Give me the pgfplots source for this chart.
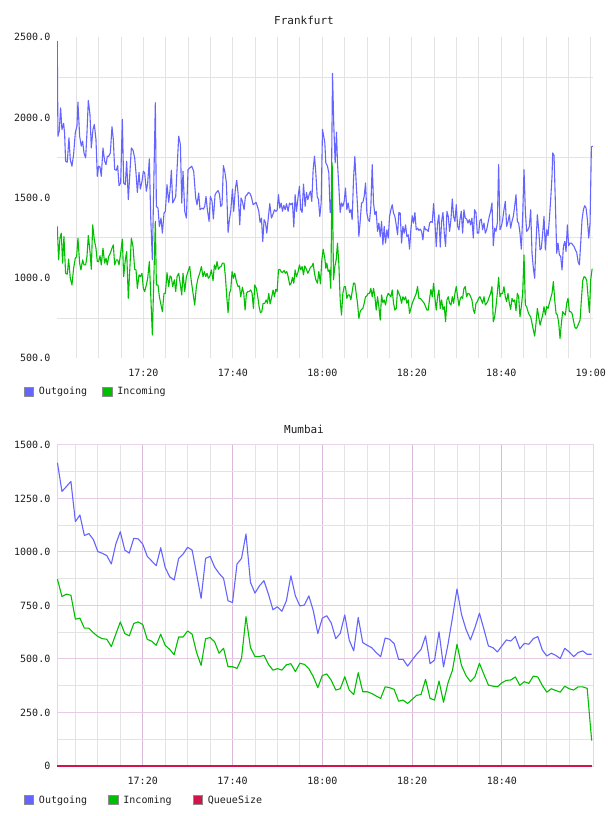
\documentclass[border=0pt]{standalone}
\usepackage{fontspec}
\usepackage{pgfplots}
\usepackage{pgfplotstable}
\pgfplotsset{compat=1.18}
\setmainfont{DejaVu Sans Mono}

\definecolor{outgoing}{HTML}{6464FF}
\definecolor{incoming}{HTML}{00BE00}
\definecolor{queue}{HTML}{D2144B}
\definecolor{gridgray}{HTML}{E3E3E3}
\definecolor{framepink}{HTML}{EBD2EB}
\definecolor{majpink}{HTML}{E6CBE6}
\definecolor{majpurple}{HTML}{DAB8DA}
\definecolor{swatchedge}{HTML}{8C8C8C}
\definecolor{ink}{HTML}{1E1E1E}

% Time axis: minutes after 17:00.
% Frankfurt, outgoing traffic
\pgfplotstableread{
t v
0.76 2477
0.91 1883
1.21 1915
1.51 2060
1.80 1925
2.18 1963
2.40 1900
2.62 1727
3.00 1721
3.37 1873
3.67 1737
4.04 1696
4.41 1769
4.79 1904
5.16 1946
5.38 2096
5.76 1883
6.13 1821
6.43 1852
6.73 1779
7.10 1748
7.40 1904
7.70 2106
8.07 2019
8.37 1810
8.74 1925
9.04 1956
9.41 1863
9.71 1633
10.01 1696
10.31 1692
10.60 1633
10.98 1810
11.35 1727
11.65 1706
11.95 1758
12.24 1758
12.62 1779
12.99 1942
13.29 1863
13.59 1675
13.96 1671
14.26 1700
14.56 1575
14.93 1592
15.30 1988
15.60 1592
15.97 1581
16.27 1727
16.64 1488
17.32 1810
17.69 1796
18.06 1748
18.36 1654
18.66 1533
19.03 1658
19.33 1554
19.70 1602
20.00 1665
20.30 1654
20.67 1540
20.97 1592
21.34 1742
21.64 1383
22.01 1113
22.68 2092
22.91 1446
23.28 1435
23.58 1321
23.95 1373
24.25 1279
24.62 1404
24.92 1415
25.29 1581
25.67 1471
25.97 1550
26.26 1671
26.56 1467
26.94 1488
27.23 1508
27.53 1675
27.90 1883
28.28 1831
28.58 1467
28.87 1665
29.25 1415
29.62 1373
29.99 1675
30.36 1685
30.81 1696
31.25 1665
31.70 1498
32.00 1456
32.37 1529
32.67 1425
33.04 1435
33.42 1429
33.72 1446
34.01 1508
34.31 1425
34.69 1352
34.98 1508
35.36 1477
35.65 1367
36.03 1519
36.33 1533
36.70 1544
37.00 1525
37.30 1446
37.59 1456
37.89 1700
38.26 1654
38.56 1592
38.94 1283
39.23 1363
39.53 1415
39.91 1554
40.20 1415
40.58 1560
40.87 1608
41.17 1529
41.55 1331
41.84 1498
42.14 1477
42.52 1425
42.81 1508
43.19 1519
43.48 1533
43.86 1525
44.16 1504
44.53 1456
44.83 1463
45.20 1471
45.50 1446
45.80 1415
46.09 1346
46.39 1373
46.69 1227
46.99 1363
47.29 1346
47.59 1279
47.96 1383
48.26 1463
48.63 1373
48.93 1394
49.30 1425
49.60 1415
49.90 1421
50.20 1519
50.49 1435
50.79 1467
51.09 1415
51.39 1452
51.69 1425
51.99 1463
52.36 1415
52.66 1467
52.95 1456
53.33 1467
53.63 1317
53.92 1519
54.22 1415
54.60 1508
54.89 1571
55.19 1425
55.49 1408
55.79 1585
56.16 1446
56.46 1533
56.76 1488
57.06 1519
57.35 1540
57.65 1477
57.95 1675
58.25 1758
58.55 1654
58.85 1508
59.14 1488
59.44 1383
59.74 1467
60.04 1925
60.56 1842
60.78 1717
61.16 1696
61.45 1654
61.75 1408
61.98 1408
62.28 2275
62.57 1946
62.87 1717
63.17 1908
63.39 1717
63.69 1571
63.99 1408
64.29 1467
64.59 1446
64.89 1477
65.18 1560
65.48 1425
65.78 1467
66.08 1408
66.38 1425
66.67 1363
66.97 1613
67.27 1758
67.57 1592
67.87 1446
68.17 1258
68.46 1352
68.76 1467
69.06 1471
69.36 1508
69.66 1592
69.96 1404
70.25 1363
70.55 1352
70.85 1446
71.15 1706
71.45 1467
71.75 1394
72.04 1415
72.34 1290
72.64 1342
72.94 1258
73.24 1352
73.54 1206
73.83 1321
74.13 1217
74.43 1300
74.73 1248
75.03 1383
75.33 1425
75.62 1456
75.92 1404
76.22 1383
76.52 1331
76.82 1269
77.11 1408
77.41 1404
77.71 1217
78.01 1321
78.31 1279
78.61 1331
78.90 1258
79.20 1269
79.50 1179
79.80 1304
80.10 1387
80.40 1342
80.69 1408
80.99 1300
81.29 1310
81.59 1296
81.89 1304
82.19 1290
82.48 1237
82.78 1321
83.08 1300
83.38 1300
83.68 1290
83.98 1342
84.27 1352
84.57 1346
84.87 1463
85.17 1342
85.47 1196
85.76 1342
86.06 1394
86.36 1192
86.66 1352
86.96 1408
87.26 1279
87.55 1196
87.85 1415
88.15 1383
88.45 1290
88.75 1363
89.05 1492
89.34 1383
89.64 1352
89.94 1456
90.24 1321
90.54 1300
90.76 1363
91.06 1415
91.36 1279
91.65 1425
91.95 1373
92.25 1367
92.55 1342
92.85 1363
93.15 1331
93.44 1373
93.74 1248
94.04 1425
94.34 1408
94.64 1279
94.94 1279
95.23 1358
95.53 1367
95.83 1300
96.13 1342
96.43 1279
96.73 1300
97.02 1342
97.32 1383
97.62 1415
97.92 1467
98.22 1200
98.52 1310
98.81 1290
99.11 1342
99.41 1706
99.71 1300
100.01 1321
100.31 1363
100.60 1425
100.90 1477
101.20 1321
101.50 1352
101.80 1394
102.09 1310
102.39 1352
102.69 1383
102.99 1446
103.29 1519
103.59 1352
103.88 1342
104.18 1279
104.48 1179
104.78 1383
105.08 1675
105.38 1415
105.67 1290
105.97 1300
106.27 1321
106.57 1425
106.87 1154
107.17 1060
107.46 998
107.76 1217
108.06 1394
108.36 1300
108.66 1175
108.95 1185
109.25 1279
109.55 1383
109.85 1175
110.15 1300
110.45 1263
110.74 1363
111.04 1488
111.34 1633
111.49 1779
111.79 1763
112.09 1467
112.39 1154
112.68 1217
112.98 1144
113.28 1133
113.58 1050
113.88 1196
114.18 1227
114.47 1165
114.77 1331
115.07 1200
115.37 1217
115.67 1217
115.97 1206
116.26 1196
116.56 1175
116.86 1158
117.16 1102
117.46 1081
117.75 1217
118.05 1363
118.35 1425
118.65 1450
118.95 1435
119.25 1363
119.55 1248
119.84 1342
120.14 1817
120.44 1821
}\frkOut

% Frankfurt, incoming traffic
\pgfplotstableread{
t v
0.76 1321
1.06 1113
1.36 1248
1.66 1279
1.95 1092
2.25 1258
2.62 1029
3.00 1023
3.30 1117
3.67 998
4.04 956
4.41 1060
4.79 1123
5.09 1133
5.38 1248
5.76 1092
6.05 1050
6.43 1113
6.73 1081
7.10 1081
7.40 1133
7.70 1265
8.07 1165
8.37 1054
8.67 1331
9.04 1238
9.41 1185
9.71 1102
10.01 1102
10.31 1138
10.60 1081
10.98 1185
11.35 1092
11.65 1123
11.95 1081
12.24 1133
12.62 1154
12.99 1185
13.29 1206
13.59 1081
13.96 1113
14.26 1113
14.56 1081
14.93 1154
15.30 1242
15.60 1008
15.97 1113
16.27 1165
16.64 873
17.32 1248
17.69 1196
18.06 1054
18.36 1050
18.66 935
19.03 1019
19.33 1008
19.70 1029
20.00 935
20.30 915
20.67 956
20.97 998
21.34 1102
21.64 904
22.01 644
22.68 1352
22.91 956
23.28 956
23.58 883
23.95 831
24.25 790
24.62 904
24.92 904
25.29 1033
25.67 946
25.97 1013
26.26 1004
26.56 946
26.94 988
27.23 915
27.53 1008
27.90 1029
28.28 956
28.58 894
28.87 1029
29.25 915
29.62 1008
29.99 1040
30.36 1071
30.73 977
31.11 904
31.48 831
31.85 946
32.22 998
32.60 1029
32.97 1071
33.34 1008
33.64 1040
33.94 1008
34.24 1029
34.54 998
34.83 1008
35.21 1050
35.58 983
35.88 1081
36.18 1054
36.47 1102
36.77 1054
37.07 1067
37.37 1071
37.67 1092
38.04 1092
38.34 1008
38.64 883
38.94 783
39.23 904
39.53 925
39.83 1040
40.13 998
40.43 1029
40.80 977
41.17 946
41.47 950
41.77 883
42.14 942
42.44 904
42.74 800
43.04 904
43.34 915
43.63 915
44.01 925
44.30 904
44.60 810
44.90 956
45.27 935
45.57 883
45.87 821
46.17 783
46.47 790
46.77 842
47.14 842
47.44 863
47.73 842
48.03 904
48.33 838
48.63 873
49.00 925
49.30 883
49.60 929
49.90 915
50.20 1050
50.49 1054
50.79 1040
51.09 1033
51.46 1046
51.76 1029
52.06 1040
52.36 1008
52.73 956
53.03 967
53.33 1004
53.63 967
53.92 1050
54.22 1008
54.60 1040
54.89 1081
55.19 1050
55.49 1071
55.79 1019
56.09 1075
56.46 1054
56.76 1029
57.06 1046
57.35 1067
57.65 1071
57.95 1092
58.25 1029
58.55 988
58.92 967
59.22 1040
59.59 963
59.89 1113
60.19 1179
60.56 1123
60.78 1060
61.01 1092
61.31 1040
61.60 1050
61.90 935
62.20 1717
62.50 988
62.80 1071
63.10 1113
63.39 1217
63.69 1092
63.99 863
64.29 769
64.59 904
64.89 946
65.18 946
65.48 873
65.78 894
66.08 894
66.38 863
66.67 915
66.97 967
67.27 967
67.57 904
67.87 842
68.17 748
68.46 790
68.76 804
69.06 810
69.36 842
69.66 883
69.96 888
70.25 904
70.55 904
70.85 935
71.15 883
71.45 935
71.75 883
72.04 800
72.34 883
72.64 821
72.94 738
73.24 894
73.54 846
73.83 863
74.13 831
74.43 883
74.73 904
75.03 894
75.33 883
75.62 925
75.92 842
76.22 800
76.52 810
76.82 925
77.11 904
77.41 883
77.71 842
78.01 883
78.31 863
78.61 883
78.90 842
79.20 863
79.50 779
79.80 810
80.10 842
80.40 863
80.69 883
80.99 904
81.29 946
81.59 873
81.89 873
82.19 863
82.48 852
82.78 842
83.08 821
83.38 800
83.68 800
83.98 873
84.27 929
84.57 883
84.87 967
85.17 873
85.47 800
85.76 883
86.06 925
86.36 810
86.66 863
86.96 804
87.26 821
87.55 727
87.85 863
88.15 883
88.45 842
88.75 831
89.05 883
89.34 842
89.64 904
89.94 946
90.24 883
90.54 825
90.76 863
91.06 883
91.36 873
91.65 935
91.95 946
92.25 883
92.55 904
92.85 900
93.15 883
93.44 863
93.74 804
94.04 779
94.34 842
94.64 852
94.94 873
95.23 883
95.53 863
95.83 842
96.13 883
96.43 831
96.73 842
97.02 858
97.32 883
97.62 904
97.92 946
98.22 727
98.52 758
98.81 821
99.11 904
99.41 1004
99.71 883
100.01 904
100.31 904
100.60 946
100.90 883
101.20 852
101.50 904
101.80 842
102.09 804
102.39 873
102.69 852
102.99 863
103.29 796
103.59 904
103.88 883
104.18 758
104.48 821
104.78 904
105.08 1144
105.38 831
105.67 821
105.97 790
106.27 769
106.57 758
106.87 717
107.17 675
107.46 638
107.76 717
108.06 810
108.36 758
108.66 706
108.95 738
109.25 769
109.55 821
109.85 769
110.15 821
110.45 810
110.74 842
111.04 873
111.34 904
111.64 977
111.94 863
112.24 779
112.54 769
112.83 721
113.13 623
113.43 717
113.73 790
114.03 779
114.32 769
114.62 842
114.92 873
115.22 790
115.52 790
115.82 779
116.11 738
116.41 696
116.71 685
117.01 696
117.31 717
117.61 738
117.90 863
118.20 983
118.50 1008
118.80 1004
119.10 983
119.40 883
119.69 783
119.99 988
120.29 1054
120.44 1054
}\frkIn

% Mumbai, one sample per minute
\pgfplotstableread{
t out in
1 1417 873
2 1283 792
3 1306 803
4 1330 798
5 1142 686
6 1173 691
7 1077 644
8 1086 644
9 1058 623
10 1002 605
11 994 595
12 983 592
13 944 558
14 1037 616
15 1095 673
16 1009 619
17 995 608
18 1064 666
19 1061 673
20 1037 661
21 980 592
22 958 583
23 936 564
24 1020 616
25 928 564
26 884 545
27 869 520
28 970 603
29 991 603
30 1022 631
31 1009 616
32 897 530
33 783 470
34 970 595
35 980 600
36 930 581
37 900 527
38 877 550
39 772 464
40 764 464
41 944 456
42 970 502
43 1084 698
44 858 553
45 808 511
46 842 511
47 866 517
48 803 475
49 730 448
50 744 455
51 723 448
52 772 473
53 889 478
54 795 441
55 748 480
56 752 475
57 795 455
58 725 417
59 619 366
60 691 423
61 702 430
62 668 400
63 595 355
64 620 361
65 706 417
66 588 355
67 538 334
68 694 436
69 577 347
70 564 347
71 553 339
72 530 327
73 511 316
74 598 370
75 592 366
76 572 358
77 498 303
78 498 308
79 467 292
80 495 311
81 522 330
82 545 334
83 608 405
84 478 316
85 495 308
86 627 397
87 463 298
88 569 389
89 694 448
90 827 569
91 709 470
92 639 423
93 589 394
94 647 417
95 714 480
96 639 428
97 561 378
98 553 373
99 533 370
100 561 389
101 589 400
102 584 402
103 605 416
104 548 377
105 573 394
106 569 386
107 595 420
108 605 416
109 542 377
110 514 345
111 527 361
112 517 353
113 502 345
114 550 373
115 533 361
116 511 355
117 530 370
118 538 370
119 522 363
120 522 119
}\mumbai

\newcommand{\labelfont}{\fontsize{10bp}{12bp}\selectfont}
\newcommand{\titlefont}{\fontsize{11bp}{13bp}\selectfont}

\pgfplotsset{
  swatch/.style={legend image code/.code={%
    \draw[draw=swatchedge, fill=#1, line width=0.8bp] (0bp,-4.6bp) rectangle (9.4bp,4.6bp);}},
  panel/.style={
    scale only axis, width=536bp, height=321bp,
    font=\labelfont,
    tick style={draw=none}, major tick length=0pt, minor tick length=0pt,
    tick label style={font=\labelfont, text=ink},
    yticklabel style={anchor=east, inner sep=0pt, xshift=-6.5bp},
    xticklabel style={anchor=north, inner sep=0pt, yshift=-10.9bp},
    legend columns=-1,
    legend cell align=left,
    legend style={draw=none, fill=none, inner sep=0pt, outer sep=0pt,
      font=\labelfont, text=ink, anchor=west,
      nodes={inner sep=0pt},
      /tikz/every odd column/.append style={column sep=4.8bp}},
    line join=round,
  },
}

\begin{document}
\begin{tikzpicture}
\useasboundingbox (0,0) rectangle (608bp,816bp);

\node[font=\titlefont, text=ink] at (304bp,795.3bp) {Frankfurt};
\begin{axis}[panel,
  at={(57bp,457.8bp)}, anchor=south west,
  xmin=0.7, xmax=120.5, ymin=500, ymax=2500,
  axis line style={draw=none},
  xtick={20,40,60,80,100,120},
  xticklabels={17:20,17:40,18:00,18:20,18:40,19:00},
  minor xtick={5,10,15,25,30,35,45,50,55,65,70,75,85,90,95,105,110,115},
  ytick={500,1000,1500,2000,2500},
  yticklabels={500.0,1000.0,1500.0,2000.0,2500.0},
  minor ytick={750,1250,1750,2250},
  xmajorgrids=true, xminorgrids=true, ymajorgrids=false, yminorgrids=true,
  major grid style={draw=gridgray, line width=0.9bp},
  minor grid style={draw=gridgray, line width=0.9bp},
  legend style={at={(axis description cs:-0.0616,-0.105)},
    /tikz/every even column/.append style={column sep=15.3bp}},
]
\addplot[outgoing, line width=1.1bp, swatch=outgoing] table[x=t, y=v] {\frkOut};
\addlegendentry{Outgoing}
\addplot[incoming, line width=1.1bp, swatch=incoming] table[x=t, y=v] {\frkIn};
\addlegendentry{Incoming}
\end{axis}

\node[font=\titlefont, text=ink] at (304bp,387bp) {Mumbai};
\begin{axis}[panel,
  at={(57bp,50bp)}, anchor=south west,
  xmin=0.9, xmax=120.3, ymin=0, ymax=1500,
  clip=false,
  axis line style={draw=framepink, line width=1bp},
  xtick={20,40,60,80,100},
  xticklabels={17:20,17:40,18:00,18:20,18:40},
  minor xtick={5,10,15,25,30,35,45,50,55,65,70,75,85,90,95,105,110,115},
  ytick={0,250,500,750,1000,1250,1500},
  yticklabels={0,250.0,500.0,750.0,1000.0,1250.0,1500.0},
  minor ytick={125,375,625,875,1125,1375},
  xmajorgrids=true, xminorgrids=true, ymajorgrids=true, yminorgrids=true,
  minor grid style={draw=gridgray, line width=0.9bp},
  major x grid style={draw=majpurple, line width=1bp},
  major y grid style={draw=majpink, line width=1bp},
  legend style={at={(axis description cs:-0.0616,-0.106)},
    /tikz/every even column/.append style={column sep=21.3bp}},
]
\addplot[outgoing, line width=1.1bp, swatch=outgoing] table[x=t, y=out] {\mumbai};
\addlegendentry{Outgoing}
\addplot[incoming, line width=1.1bp, swatch=incoming] table[x=t, y=in] {\mumbai};
\addlegendentry{Incoming}
\addplot[queue, line width=1.4bp, swatch=queue] coordinates {(1,0) (120,0)};
\addlegendentry{QueueSize}
\end{axis}
\end{tikzpicture}
\end{document}
